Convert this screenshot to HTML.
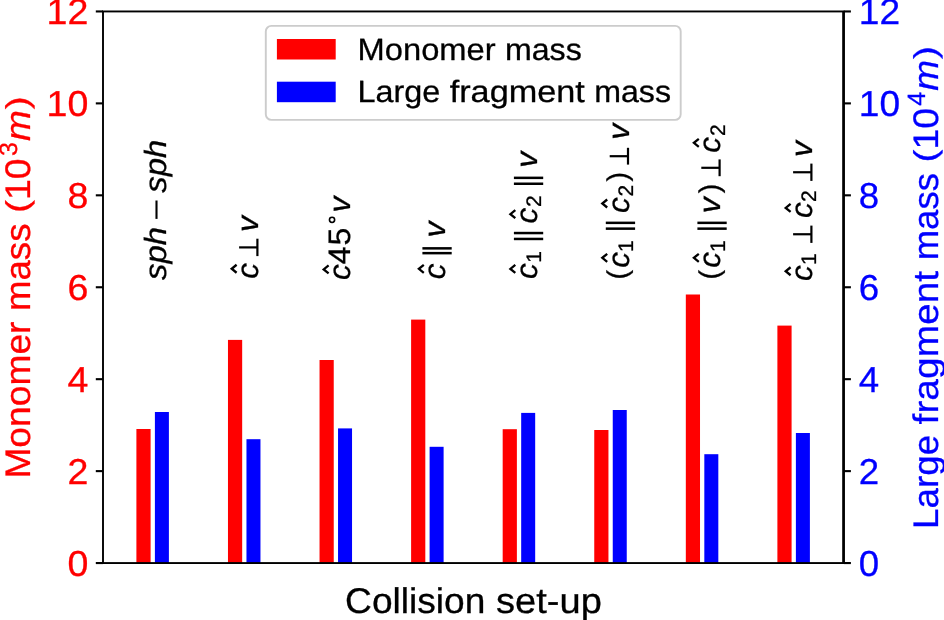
<!DOCTYPE html>
<html lang="en"><head><meta charset="utf-8"><title>Collision set-up: monomer mass and large fragment mass</title>
<style>html,body{margin:0;padding:0;background:#ffffff;overflow:hidden}body{width:944px;height:620px}svg{display:block;position:absolute;left:0;top:0;text-rendering:geometricPrecision;will-change:transform}text{font-family:"Liberation Sans",sans-serif;stroke-width:0.3px}.ann text{stroke:#000000}.i{font-style:italic}</style>
</head><body>
<svg width="944" height="620" viewBox="0 0 944 620">
<rect x="0" y="0" width="944" height="620" fill="#ffffff"/>
<g id="bars">
<rect x="136.40" y="429.00" width="14.2" height="134.05" fill="#ff0000"/>
<rect x="154.90" y="412.00" width="14.0" height="151.05" fill="#0000ff"/>
<rect x="227.97" y="339.90" width="14.2" height="223.15" fill="#ff0000"/>
<rect x="246.47" y="439.20" width="14.0" height="123.85" fill="#0000ff"/>
<rect x="319.54" y="360.00" width="14.2" height="203.05" fill="#ff0000"/>
<rect x="338.04" y="428.40" width="14.0" height="134.65" fill="#0000ff"/>
<rect x="411.11" y="319.60" width="14.2" height="243.45" fill="#ff0000"/>
<rect x="429.61" y="446.80" width="14.0" height="116.25" fill="#0000ff"/>
<rect x="502.68" y="429.20" width="14.2" height="133.85" fill="#ff0000"/>
<rect x="521.18" y="412.90" width="14.0" height="150.15" fill="#0000ff"/>
<rect x="594.25" y="430.00" width="14.2" height="133.05" fill="#ff0000"/>
<rect x="612.75" y="410.00" width="14.0" height="153.05" fill="#0000ff"/>
<rect x="685.82" y="294.50" width="14.2" height="268.55" fill="#ff0000"/>
<rect x="704.32" y="454.20" width="14.0" height="108.85" fill="#0000ff"/>
<rect x="777.39" y="325.60" width="14.2" height="237.45" fill="#ff0000"/>
<rect x="795.89" y="433.00" width="14.0" height="130.05" fill="#0000ff"/>
</g>
<g id="axes" stroke="#000000" fill="none">
<rect x="103.00" y="11.45" width="740.70" height="551.60" stroke-width="1.90"/>
<line x1="843.55" y1="11.45" x2="843.55" y2="563.05" stroke-width="2.6"/>
<line x1="95.80" y1="563.05" x2="103.00" y2="563.05" stroke-width="2.10"/>
<line x1="843.70" y1="563.05" x2="850.90" y2="563.05" stroke-width="2.10"/>
<line x1="95.80" y1="471.12" x2="103.00" y2="471.12" stroke-width="2.10"/>
<line x1="843.70" y1="471.12" x2="850.90" y2="471.12" stroke-width="2.10"/>
<line x1="95.80" y1="379.18" x2="103.00" y2="379.18" stroke-width="2.10"/>
<line x1="843.70" y1="379.18" x2="850.90" y2="379.18" stroke-width="2.10"/>
<line x1="95.80" y1="287.25" x2="103.00" y2="287.25" stroke-width="2.10"/>
<line x1="843.70" y1="287.25" x2="850.90" y2="287.25" stroke-width="2.10"/>
<line x1="95.80" y1="195.32" x2="103.00" y2="195.32" stroke-width="2.10"/>
<line x1="843.70" y1="195.32" x2="850.90" y2="195.32" stroke-width="2.10"/>
<line x1="95.80" y1="103.38" x2="103.00" y2="103.38" stroke-width="2.10"/>
<line x1="843.70" y1="103.38" x2="850.90" y2="103.38" stroke-width="2.10"/>
<line x1="95.80" y1="11.45" x2="103.00" y2="11.45" stroke-width="2.10"/>
<line x1="843.70" y1="11.45" x2="850.90" y2="11.45" stroke-width="2.10"/>
</g>
<g id="ticklabels" font-size="36.0">
<text x="88.40" y="575.95" fill="#ff0000" stroke="#ff0000" text-anchor="end" textLength="20.9" lengthAdjust="spacingAndGlyphs">0</text>
<text x="858.80" y="575.95" fill="#0000ff" stroke="#0000ff" text-anchor="start" textLength="20.4" lengthAdjust="spacingAndGlyphs">0</text>
<text x="88.40" y="484.02" fill="#ff0000" stroke="#ff0000" text-anchor="end" textLength="20.9" lengthAdjust="spacingAndGlyphs">2</text>
<text x="858.80" y="484.02" fill="#0000ff" stroke="#0000ff" text-anchor="start" textLength="20.4" lengthAdjust="spacingAndGlyphs">2</text>
<text x="88.40" y="392.08" fill="#ff0000" stroke="#ff0000" text-anchor="end" textLength="20.9" lengthAdjust="spacingAndGlyphs">4</text>
<text x="858.80" y="392.08" fill="#0000ff" stroke="#0000ff" text-anchor="start" textLength="20.4" lengthAdjust="spacingAndGlyphs">4</text>
<text x="88.40" y="300.15" fill="#ff0000" stroke="#ff0000" text-anchor="end" textLength="20.9" lengthAdjust="spacingAndGlyphs">6</text>
<text x="858.80" y="300.15" fill="#0000ff" stroke="#0000ff" text-anchor="start" textLength="20.4" lengthAdjust="spacingAndGlyphs">6</text>
<text x="88.40" y="208.22" fill="#ff0000" stroke="#ff0000" text-anchor="end" textLength="20.9" lengthAdjust="spacingAndGlyphs">8</text>
<text x="858.80" y="208.22" fill="#0000ff" stroke="#0000ff" text-anchor="start" textLength="20.4" lengthAdjust="spacingAndGlyphs">8</text>
<text x="88.40" y="116.28" fill="#ff0000" stroke="#ff0000" text-anchor="end" textLength="41.8" lengthAdjust="spacingAndGlyphs">10</text>
<text x="858.80" y="116.28" fill="#0000ff" stroke="#0000ff" text-anchor="start" textLength="41.3" lengthAdjust="spacingAndGlyphs">10</text>
<text x="88.40" y="24.35" fill="#ff0000" stroke="#ff0000" text-anchor="end" textLength="41.8" lengthAdjust="spacingAndGlyphs">12</text>
<text x="858.80" y="24.35" fill="#0000ff" stroke="#0000ff" text-anchor="start" textLength="41.3" lengthAdjust="spacingAndGlyphs">12</text>
</g>
<g id="xlabel" font-size="35.7" fill="#000000" stroke="#000000">
<text x="345.1" y="613.4" textLength="140.3" lengthAdjust="spacingAndGlyphs">Collision</text>
<text x="496.0" y="613.4" textLength="105.8" lengthAdjust="spacingAndGlyphs">set-up</text>
</g>
<g id="ylabelL" transform="translate(30.40,478.60) rotate(-90)" fill="#ff0000" stroke="#ff0000" font-size="35.5">
<text x="0.00" y="0" textLength="157.06" lengthAdjust="spacingAndGlyphs">Monomer</text>
<text x="167.63" y="0" textLength="87.46" lengthAdjust="spacingAndGlyphs">mass</text>
<text x="265.67" y="-2.20" font-size="31.6" textLength="12.98" lengthAdjust="spacingAndGlyphs">(</text>
<text x="278.65" y="0" textLength="41.63" lengthAdjust="spacingAndGlyphs">10</text>
<text x="322.51" y="-13.21" font-size="25.0">3</text>
<text class="i" x="337.55" y="0" textLength="30.91" lengthAdjust="spacingAndGlyphs">m</text>
<text x="369.46" y="-2.20" font-size="31.6" textLength="12.98" lengthAdjust="spacingAndGlyphs">)</text>
</g>
<g id="ylabelR" transform="translate(938.30,528.90) rotate(-90)" fill="#0000ff" stroke="#0000ff" font-size="35.5">
<text x="0.00" y="0" textLength="93.96" lengthAdjust="spacingAndGlyphs">Large</text>
<text x="104.51" y="0" textLength="153.53" lengthAdjust="spacingAndGlyphs">fragment</text>
<text x="268.60" y="0" textLength="87.24" lengthAdjust="spacingAndGlyphs">mass</text>
<text x="366.40" y="-2.20" font-size="31.6" textLength="12.95" lengthAdjust="spacingAndGlyphs">(</text>
<text x="379.33" y="0" textLength="41.54" lengthAdjust="spacingAndGlyphs">10</text>
<text x="423.10" y="-13.17" font-size="25.0">4</text>
<text class="i" x="438.09" y="0" textLength="30.83" lengthAdjust="spacingAndGlyphs">m</text>
<text x="469.93" y="-2.20" font-size="31.6" textLength="12.95" lengthAdjust="spacingAndGlyphs">)</text>
</g>
<g id="legend">
<rect x="265.8" y="25.9" width="414.9" height="93.95" rx="5.6" ry="5.6" fill="#ffffff" fill-opacity="0.8" stroke="#cccccc" stroke-width="1.9"/>
<rect x="276.9" y="39.0" width="58.8" height="20.5" fill="#ff0000"/>
<rect x="276.9" y="81.7" width="58.8" height="20.5" fill="#0000ff"/>
<g font-size="30.8" fill="#000000" stroke="#000000">
<text x="357.60" y="59.6" textLength="138.04" lengthAdjust="spacingAndGlyphs">Monomer</text>
<text x="504.91" y="59.6" textLength="76.85" lengthAdjust="spacingAndGlyphs">mass</text>
<text x="357.60" y="102.0" textLength="82.77" lengthAdjust="spacingAndGlyphs">Large</text>
<text x="449.66" y="102.0" textLength="135.23" lengthAdjust="spacingAndGlyphs">fragment</text>
<text x="594.21" y="102.0" textLength="76.81" lengthAdjust="spacingAndGlyphs">mass</text>
</g>
</g>
<g id="annotations" class="ann">
<text class="i" transform="translate(166.10,279.90) rotate(-90)" font-size="30.6" textLength="53" lengthAdjust="spacingAndGlyphs" fill="#000">sph</text>
<line x1="156.50" y1="200.50" x2="156.50" y2="218.90" stroke="#000" stroke-width="2.1"/>
<text class="i" transform="translate(166.10,192.70) rotate(-90)" font-size="30.6" textLength="53" lengthAdjust="spacingAndGlyphs" fill="#000">sph</text>
<text transform="translate(258.00,270.95) rotate(-90)" text-anchor="middle" font-size="30.6" class="i" textLength="15.8" lengthAdjust="spacingAndGlyphs" fill="#000">c</text>
<polyline points="236.60,264.75 231.70,268.75 236.60,272.75" fill="none" stroke="#000" stroke-width="2.3" stroke-linejoin="miter"/>
<line x1="257.40" y1="238.70" x2="257.40" y2="256.10" stroke="#000" stroke-width="2.20"/>
<line x1="239.10" y1="247.40" x2="257.40" y2="247.40" stroke="#000" stroke-width="2.20"/>
<text transform="translate(258.00,223.95) rotate(-90)" text-anchor="middle" font-size="30.6" class="i" textLength="15.9" lengthAdjust="spacingAndGlyphs" fill="#000">v</text>
<text transform="translate(350.00,272.05) rotate(-90)" text-anchor="middle" font-size="30.6" class="i" textLength="15.8" lengthAdjust="spacingAndGlyphs" fill="#000">c</text>
<polyline points="328.60,265.45 323.70,269.45 328.60,273.45" fill="none" stroke="#000" stroke-width="2.3" stroke-linejoin="miter"/>
<text transform="translate(350.00,255.30) rotate(-90)" text-anchor="middle" font-size="31.0" textLength="17.8" lengthAdjust="spacingAndGlyphs" fill="#000">4</text>
<text transform="translate(350.00,236.55) rotate(-90)" text-anchor="middle" font-size="31.0" textLength="17.8" lengthAdjust="spacingAndGlyphs" fill="#000">5</text>
<circle cx="332.05" cy="219.85" r="2.6" fill="none" stroke="#000" stroke-width="1.6"/>
<text transform="translate(350.00,204.60) rotate(-90)" text-anchor="middle" font-size="30.6" class="i" textLength="15.9" lengthAdjust="spacingAndGlyphs" fill="#000">v</text>
<text transform="translate(445.20,271.35) rotate(-90)" text-anchor="middle" font-size="30.6" class="i" textLength="15.8" lengthAdjust="spacingAndGlyphs" fill="#000">c</text>
<polyline points="423.80,264.85 418.90,268.85 423.80,272.85" fill="none" stroke="#000" stroke-width="2.3" stroke-linejoin="miter"/>
<line x1="422.40" y1="248.35" x2="451.70" y2="248.35" stroke="#000" stroke-width="2.5"/>
<line x1="422.40" y1="253.15" x2="451.70" y2="253.15" stroke="#000" stroke-width="2.5"/>
<text transform="translate(445.20,229.65) rotate(-90)" text-anchor="middle" font-size="30.6" class="i" textLength="15.9" lengthAdjust="spacingAndGlyphs" fill="#000">v</text>
<text transform="translate(536.70,271.05) rotate(-90)" text-anchor="middle" font-size="30.6" class="i" textLength="15.8" lengthAdjust="spacingAndGlyphs" fill="#000">c</text>
<polyline points="515.30,264.90 510.40,268.90 515.30,272.90" fill="none" stroke="#000" stroke-width="2.3" stroke-linejoin="miter"/>
<text transform="translate(541.10,256.85) rotate(-90)" text-anchor="middle" font-size="21.0" fill="#000">1</text>
<line x1="513.90" y1="233.05" x2="543.20" y2="233.05" stroke="#000" stroke-width="2.5"/>
<line x1="513.90" y1="238.95" x2="543.20" y2="238.95" stroke="#000" stroke-width="2.5"/>
<text transform="translate(536.70,215.70) rotate(-90)" text-anchor="middle" font-size="30.6" class="i" textLength="15.8" lengthAdjust="spacingAndGlyphs" fill="#000">c</text>
<polyline points="515.30,210.20 510.40,214.20 515.30,218.20" fill="none" stroke="#000" stroke-width="2.3" stroke-linejoin="miter"/>
<text transform="translate(541.10,201.15) rotate(-90)" text-anchor="middle" font-size="21.0" fill="#000">2</text>
<line x1="513.90" y1="177.85" x2="543.20" y2="177.85" stroke="#000" stroke-width="2.5"/>
<line x1="513.90" y1="183.75" x2="543.20" y2="183.75" stroke="#000" stroke-width="2.5"/>
<text transform="translate(536.70,159.75) rotate(-90)" text-anchor="middle" font-size="30.6" class="i" textLength="15.9" lengthAdjust="spacingAndGlyphs" fill="#000">v</text>
<text transform="translate(627.30,274.65) rotate(-90)" text-anchor="middle" font-size="28.5" fill="#000">(</text>
<text transform="translate(628.60,259.85) rotate(-90)" text-anchor="middle" font-size="30.6" class="i" textLength="15.8" lengthAdjust="spacingAndGlyphs" fill="#000">c</text>
<polyline points="607.20,253.80 602.30,257.80 607.20,261.80" fill="none" stroke="#000" stroke-width="2.3" stroke-linejoin="miter"/>
<text transform="translate(633.00,246.10) rotate(-90)" text-anchor="middle" font-size="21.0" fill="#000">1</text>
<line x1="605.80" y1="222.85" x2="635.10" y2="222.85" stroke="#000" stroke-width="2.5"/>
<line x1="605.80" y1="228.65" x2="635.10" y2="228.65" stroke="#000" stroke-width="2.5"/>
<text transform="translate(628.60,205.00) rotate(-90)" text-anchor="middle" font-size="30.6" class="i" textLength="15.8" lengthAdjust="spacingAndGlyphs" fill="#000">c</text>
<polyline points="607.20,199.50 602.30,203.50 607.20,207.50" fill="none" stroke="#000" stroke-width="2.3" stroke-linejoin="miter"/>
<text transform="translate(633.00,190.60) rotate(-90)" text-anchor="middle" font-size="21.0" fill="#000">2</text>
<text transform="translate(627.30,176.80) rotate(-90)" text-anchor="middle" font-size="28.5" fill="#000">)</text>
<line x1="628.00" y1="147.80" x2="628.00" y2="164.60" stroke="#000" stroke-width="2.20"/>
<line x1="609.70" y1="156.20" x2="628.00" y2="156.20" stroke="#000" stroke-width="2.20"/>
<text transform="translate(628.60,131.85) rotate(-90)" text-anchor="middle" font-size="30.6" class="i" textLength="15.9" lengthAdjust="spacingAndGlyphs" fill="#000">v</text>
<text transform="translate(718.90,274.65) rotate(-90)" text-anchor="middle" font-size="28.5" fill="#000">(</text>
<text transform="translate(720.20,259.85) rotate(-90)" text-anchor="middle" font-size="30.6" class="i" textLength="15.8" lengthAdjust="spacingAndGlyphs" fill="#000">c</text>
<polyline points="698.80,253.80 693.90,257.80 698.80,261.80" fill="none" stroke="#000" stroke-width="2.3" stroke-linejoin="miter"/>
<text transform="translate(724.60,246.10) rotate(-90)" text-anchor="middle" font-size="21.0" fill="#000">1</text>
<line x1="697.40" y1="222.85" x2="726.70" y2="222.85" stroke="#000" stroke-width="2.5"/>
<line x1="697.40" y1="228.65" x2="726.70" y2="228.65" stroke="#000" stroke-width="2.5"/>
<text transform="translate(720.20,205.30) rotate(-90)" text-anchor="middle" font-size="30.6" class="i" textLength="15.9" lengthAdjust="spacingAndGlyphs" fill="#000">v</text>
<text transform="translate(718.90,188.40) rotate(-90)" text-anchor="middle" font-size="28.5" fill="#000">)</text>
<line x1="719.60" y1="159.40" x2="719.60" y2="176.20" stroke="#000" stroke-width="2.20"/>
<line x1="701.30" y1="167.80" x2="719.60" y2="167.80" stroke="#000" stroke-width="2.20"/>
<text transform="translate(720.20,144.85) rotate(-90)" text-anchor="middle" font-size="30.6" class="i" textLength="15.8" lengthAdjust="spacingAndGlyphs" fill="#000">c</text>
<polyline points="698.80,138.85 693.90,142.85 698.80,146.85" fill="none" stroke="#000" stroke-width="2.3" stroke-linejoin="miter"/>
<text transform="translate(724.60,130.15) rotate(-90)" text-anchor="middle" font-size="21.0" fill="#000">2</text>
<text transform="translate(812.00,273.10) rotate(-90)" text-anchor="middle" font-size="30.6" class="i" textLength="15.8" lengthAdjust="spacingAndGlyphs" fill="#000">c</text>
<polyline points="790.60,267.25 785.70,271.25 790.60,275.25" fill="none" stroke="#000" stroke-width="2.3" stroke-linejoin="miter"/>
<text transform="translate(816.40,259.15) rotate(-90)" text-anchor="middle" font-size="21.0" fill="#000">1</text>
<line x1="811.40" y1="225.60" x2="811.40" y2="242.90" stroke="#000" stroke-width="2.20"/>
<line x1="793.10" y1="234.25" x2="811.40" y2="234.25" stroke="#000" stroke-width="2.20"/>
<text transform="translate(812.00,210.20) rotate(-90)" text-anchor="middle" font-size="30.6" class="i" textLength="15.8" lengthAdjust="spacingAndGlyphs" fill="#000">c</text>
<polyline points="790.60,203.90 785.70,207.90 790.60,211.90" fill="none" stroke="#000" stroke-width="2.3" stroke-linejoin="miter"/>
<text transform="translate(816.40,196.15) rotate(-90)" text-anchor="middle" font-size="21.0" fill="#000">2</text>
<line x1="811.40" y1="163.60" x2="811.40" y2="180.90" stroke="#000" stroke-width="2.20"/>
<line x1="793.10" y1="172.25" x2="811.40" y2="172.25" stroke="#000" stroke-width="2.20"/>
<text transform="translate(812.00,149.00) rotate(-90)" text-anchor="middle" font-size="30.6" class="i" textLength="15.9" lengthAdjust="spacingAndGlyphs" fill="#000">v</text>
</g>
</svg>
</body></html>
